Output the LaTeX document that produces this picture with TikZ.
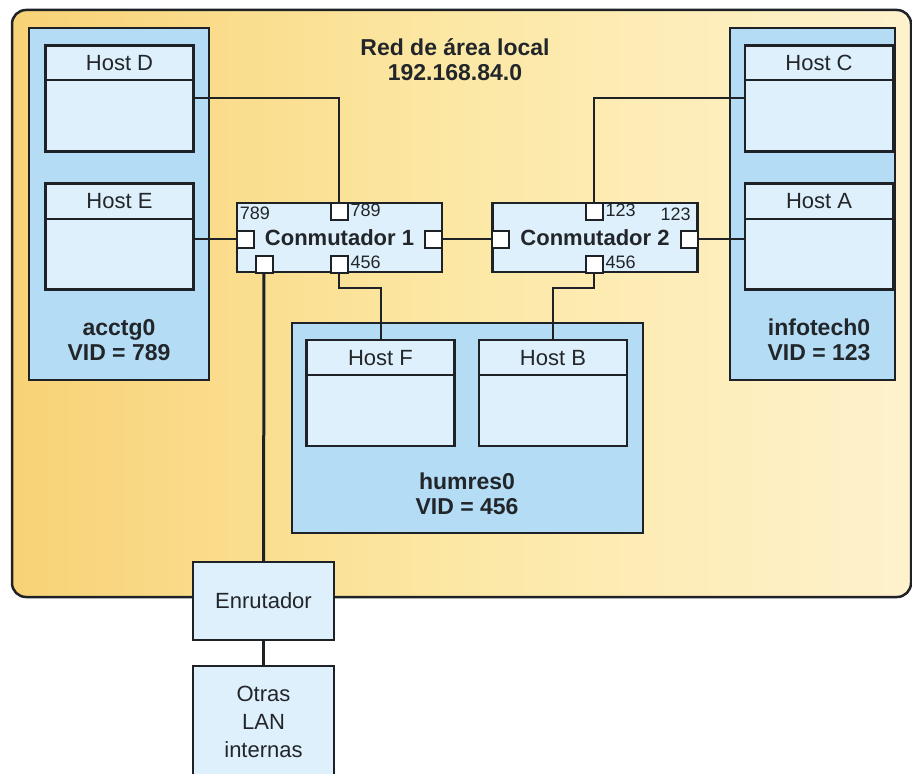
\documentclass[tikz,border=0pt]{standalone}
\usepackage{fontspec}
\setmainfont{Liberation Sans}
\usetikzlibrary{positioning}
\definecolor{linecol}{RGB}{30,34,38}
\definecolor{txtcol}{RGB}{34,38,42}
\definecolor{lanleft}{RGB}{248,210,118}
\definecolor{lanmid}{RGB}{252,232,165}
\definecolor{lanright}{RGB}{254,242,205}
\definecolor{vlanblue}{RGB}{180,220,244}
\definecolor{hostblue}{RGB}{222,240,251}
\tikzset{
  vlan/.style={draw=linecol, line width=2.5pt, fill=vlanblue},
  host/.style={draw=linecol, line width=2.5pt, fill=hostblue,
    minimum width=148pt, minimum height=106pt, inner sep=0pt,
    text height=25pt, text depth=81pt, text=txtcol,
    font=\fontsize{22}{24}\selectfont,
    path picture={\draw[linecol, line width=2pt]
      ([yshift=-35pt]path picture bounding box.north west) --
      ([yshift=-35pt]path picture bounding box.north east);}},
  switchbox/.style={draw=linecol, line width=2.5pt, fill=hostblue,
    minimum width=205pt, minimum height=69pt, inner sep=0pt, text=txtcol,
    font=\bfseries\fontsize{22}{24}\selectfont},
  port/.style={draw=linecol, line width=2pt, fill=white,
    minimum size=17pt, inner sep=0pt},
  portlbl/.style={inner sep=0pt, text=txtcol, font=\fontsize{18}{20}\selectfont},
  boxlbl/.style={align=center, text=txtcol, font=\bfseries\fontsize{23}{25}\selectfont},
  plainbox/.style={draw=linecol, line width=2.5pt, fill=hostblue,
    minimum width=141pt, align=center, text=txtcol,
    font=\fontsize{22}{28}\selectfont},
  wire/.style={draw=linecol, line width=2pt},
  uplink/.style={draw=linecol, line width=3pt}
}
\begin{document}
\begin{tikzpicture}[x=1pt,y=-1pt]
    \useasboundingbox[fill=white] (0,0) rectangle (912,773);
    % red de area local
    \shade[left color=lanleft, right color=lanright, middle color=lanmid]
      [rounded corners=14pt] (12,10) rectangle (911,597);
    \draw[linecol, line width=2.5pt, rounded corners=14pt] (12,10) rectangle (911,597);
    \node[boxlbl] (title) at (455,60) {Red de área local\\192.168.84.0};
    % vlans
    \draw[vlan] (29,28) rectangle (209,380);
    \draw[vlan] (730,28) rectangle (895,380);
    \draw[vlan] (292,323) rectangle (643,533);
    \node[boxlbl] (acctg) at (119,340) {acctg0\\VID = 789};
    \node[boxlbl] (infotech) at (819,340) {infotech0\\VID = 123};
    \node[boxlbl] (humres) at (467,494) {humres0\\VID = 456};
    % hosts
    \node[host] (hostD) at (119.5,98.5) {Host D};
    \node[host] (hostE) at (119.5,236.5) {Host E};
    \node[host] (hostC) at (819,98.5) {Host C};
    \node[host] (hostA) at (819,236.5) {Host A};
    \node[host] (hostF) at (380.5,393) {Host F};
    \node[host] (hostB) at (553,393) {Host B};
    % conmutadores
    \node[switchbox] (sw1) at (339.5,237.5) {Conmutador 1};
    \node[switchbox] (sw2) at (595,237.5) {Conmutador 2};
    \node[port] (s1top) at (339,211) {};
    \node[port] (s1left) at (245,239) {};
    \node[port] (s1right) at (433,239) {};
    \node[port] (s1bota) at (264,264) {};
    \node[port] (s1botb) at (339,264) {};
    \node[port] (s2top) at (594,211) {};
    \node[port] (s2left) at (500,239) {};
    \node[port] (s2right) at (689,239) {};
    \node[port] (s2bot) at (594,264) {};
    \node[portlbl, anchor=north west, xshift=4pt, yshift=-5pt] (l1a) at (sw1.north west) {789};
    \node[portlbl, right=2pt of s1top, yshift=1pt] (l1b) {789};
    \node[portlbl, right=2pt of s1botb, yshift=2pt] (l1c) {456};
    \node[portlbl, right=2pt of s2top, yshift=1pt] (l2a) {123};
    \node[portlbl, anchor=north east, xshift=-8pt, yshift=-6pt] (l2b) at (sw2.north east) {123};
    \node[portlbl, right=2pt of s2bot, yshift=2pt] (l2c) {456};
    % enrutador
    \node[plainbox, minimum height=78pt] (router) at (263.5,601) {Enrutador};
    \node[plainbox, minimum height=112pt] (lan) at (263.5,722) {Otras\\LAN\\internas};
    % cables
    \draw[wire] (hostD) -| (s1top);
    \draw[wire] (hostE.east |- s1left) -- (s1left);
    \draw[wire] (s1right) -- (s2left);
    \draw[wire] (hostC) -| (s2top);
    \draw[wire] (s2right) -- (hostA.west |- s2right);
    \draw[wire] (s1botb) -- ++(0,24) -| (hostF);
    \draw[wire] (s2bot) -- ++(0,24) -| (hostB);
    \draw[uplink] (s1bota) -- (router);
    \draw[uplink] (router) -- (lan);
\end{tikzpicture}
\end{document}
